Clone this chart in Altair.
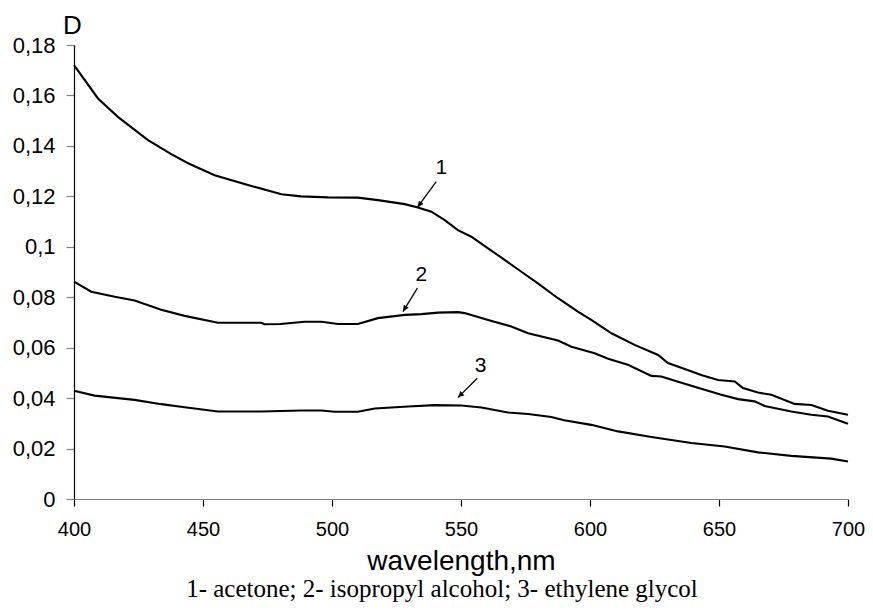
import altair as alt
import pandas as pd

# curve 1 - acetone
wl1 = [400, 409.3, 417, 428.7, 437.7, 444.2, 454.5, 467.4, 480.4, 488, 498.4, 510, 517.8, 528.2, 533.3,
       538.5, 543.7, 548.8, 554, 560.5, 566.9, 573.4, 579.8, 587.6, 595.3, 600.5, 608.3, 617.3, 626.4,
       630.2, 636.7, 643.1, 649.6, 656.1, 659.3, 665.1, 670.3, 679.3, 685.8, 692.2, 700]
d1 = [0.172, 0.1588, 0.1515, 0.1423, 0.1367, 0.1331, 0.1284, 0.1245, 0.1208, 0.1200, 0.1196, 0.1195,
      0.1185, 0.1169, 0.1156, 0.1139, 0.1106, 0.1066, 0.1040, 0.0994, 0.0948, 0.0901, 0.0855, 0.0796,
      0.0743, 0.0710, 0.0657, 0.0611, 0.0571, 0.0539, 0.0515, 0.0492, 0.0472, 0.0466, 0.0440, 0.0422,
      0.0413, 0.0377, 0.0373, 0.0350, 0.0334]

# curve 2 - isopropyl alcohol
wl2 = [400, 406.7, 415.8, 423.5, 433.8, 442.9, 455.8, 472.6, 473.8, 480, 489.4, 495.9, 502.3, 510,
       517.8, 528.2, 534.6, 541.1, 548.8, 551.4, 560.5, 569.5, 576, 587.6, 592.8, 601.8, 607, 614.7,
       623.8, 627.6, 636.7, 644.4, 650.9, 657.4, 663.8, 667.7, 678, 685.8, 692.2, 700]
d2 = [0.0862, 0.0822, 0.0802, 0.0787, 0.0750, 0.0726, 0.0699, 0.0699, 0.0693, 0.0694, 0.0703, 0.0703,
      0.0694, 0.0694, 0.0717, 0.0730, 0.0733, 0.0739, 0.0741, 0.0737, 0.0710, 0.0684, 0.0657, 0.0628,
      0.0604, 0.0578, 0.0556, 0.0532, 0.0488, 0.0486, 0.0457, 0.0433, 0.0413, 0.0396, 0.0387, 0.0369,
      0.0347, 0.0334, 0.0327, 0.0298]

# curve 3 - ethylene glycol
wl3 = [400, 408, 417, 423.5, 433.8, 442.9, 455.8, 472.6, 488.1, 495.9, 501, 510, 516.6, 529.5,
       539.8, 550.1, 557.9, 568.2, 576, 585, 590, 600.5, 610.9, 623.8, 639.3, 652.2, 665.1, 678,
       693.5, 700]
d3 = [0.0429, 0.0410, 0.0400, 0.0393, 0.0376, 0.0364, 0.0347, 0.0347, 0.0351, 0.0351, 0.0346,
      0.0346, 0.0359, 0.0367, 0.0372, 0.0371, 0.0363, 0.0343, 0.0337, 0.0325, 0.0312, 0.0294,
      0.0268, 0.0246, 0.0222, 0.0208, 0.0185, 0.0171, 0.0160, 0.0149]

# annotations
ann_text = ["1", "2", "3"]
ann_x = [542.4, 534.6, 557.6]
ann_y = [0.1311, 0.0888, 0.0528]
arrow_x = [540.4, 533.1, 556.3]
arrow_y = [0.1258, 0.0836, 0.0479]
arrow_x2 = [533.1, 527.5, 548.8]
arrow_y2 = [0.1156, 0.0743, 0.0402]
arrow_angle = [216.6, 211.4, 224.9]

y_ticks = [0, 0.02, 0.04, 0.06, 0.08, 0.1, 0.12, 0.14, 0.16, 0.18]
x_ticks = [400, 450, 500, 550, 600, 650, 700]

rows = []
for s, (w, d) in enumerate([(wl1, d1), (wl2, d2), (wl3, d3)], start=1):
    for a, b in zip(w, d):
        rows.append({"series": str(s), "wl": a, "D": b})
df = pd.DataFrame(rows)

ann = pd.DataFrame({"t": ann_text, "x": ann_x, "y": ann_y, "ax": arrow_x, "ay": arrow_y,
                    "ax2": arrow_x2, "ay2": arrow_y2, "ang": arrow_angle})

FONT = "Liberation Sans"

xs = alt.Scale(domain=[400, 700], nice=False, zero=False)
ys = alt.Scale(domain=[0, 0.18], nice=False)

lines = alt.Chart(df).mark_line(color="black", strokeWidth=2.1).encode(
    x=alt.X("wl:Q", scale=xs, axis=alt.Axis(
        values=x_ticks, title="wavelength,nm", grid=False, domainColor="#808080",
        tickColor="black", tickSize=7, labelFont=FONT, labelFontSize=20, labelPadding=13,
        labelFlush=False, labelOverlap=False,
        labelColor="black", titleFont=FONT, titleFontSize=28, titleFontWeight="normal",
        titleColor="black", titleY=70, titleBaseline="alphabetic")),
    y=alt.Y("D:Q", scale=ys, axis=alt.Axis(
        values=y_ticks, title="D", grid=False, domainColor="black", tickColor="#808080",
        tickSize=8, labelFont=FONT, labelFontSize=22, labelPadding=11, labelColor="black",
        labelFlush=False, labelOverlap=False,
        labelExpr="replace(format(datum.value, '.2~f'), '.', ',')",
        titleFont=FONT, titleFontSize=26, titleFontWeight="normal", titleColor="black",
        titleAngle=0, titleX=-2, titleY=-12, titleAlign="center", titleBaseline="alphabetic")),
    detail="series:N",
)

labels = alt.Chart(ann).mark_text(font=FONT, fontSize=21, color="black", baseline="middle",
                                  align="center").encode(
    x=alt.X("x:Q", scale=xs), y=alt.Y("y:Q", scale=ys), text="t:N")

shafts = alt.Chart(ann).mark_rule(color="black", strokeWidth=1.3).encode(
    x=alt.X("ax:Q", scale=xs), y=alt.Y("ay:Q", scale=ys),
    x2="ax2:Q", y2="ay2:Q")

heads = alt.Chart(ann).mark_point(shape="M0,0L-0.45,1L0.45,1Z", filled=True, color="black",
                                  opacity=1, size=160).encode(
    x=alt.X("ax2:Q", scale=xs), y=alt.Y("ay2:Q", scale=ys),
    angle=alt.Angle("ang:Q", scale=None))

chart = alt.layer(lines, shafts, heads, labels).properties(
    width=774, height=454,
    padding={"left": 66, "top": 37, "right": 17, "bottom": 103},
    autosize=alt.AutoSizeParams(type="none"),
    title=alt.Title("1- acetone; 2- isopropyl alcohol; 3- ethylene glycol", orient="bottom",
                    font="Liberation Serif", fontSize=25, fontWeight="normal", color="black",
                    anchor="middle", dx=-19, offset=22, baseline="alphabetic"),
).configure_view(stroke=None).configure_axis(domainWidth=1.2, tickWidth=1.2)

chart.save("out.html", embed_options={"renderer": "svg", "actions": False})
